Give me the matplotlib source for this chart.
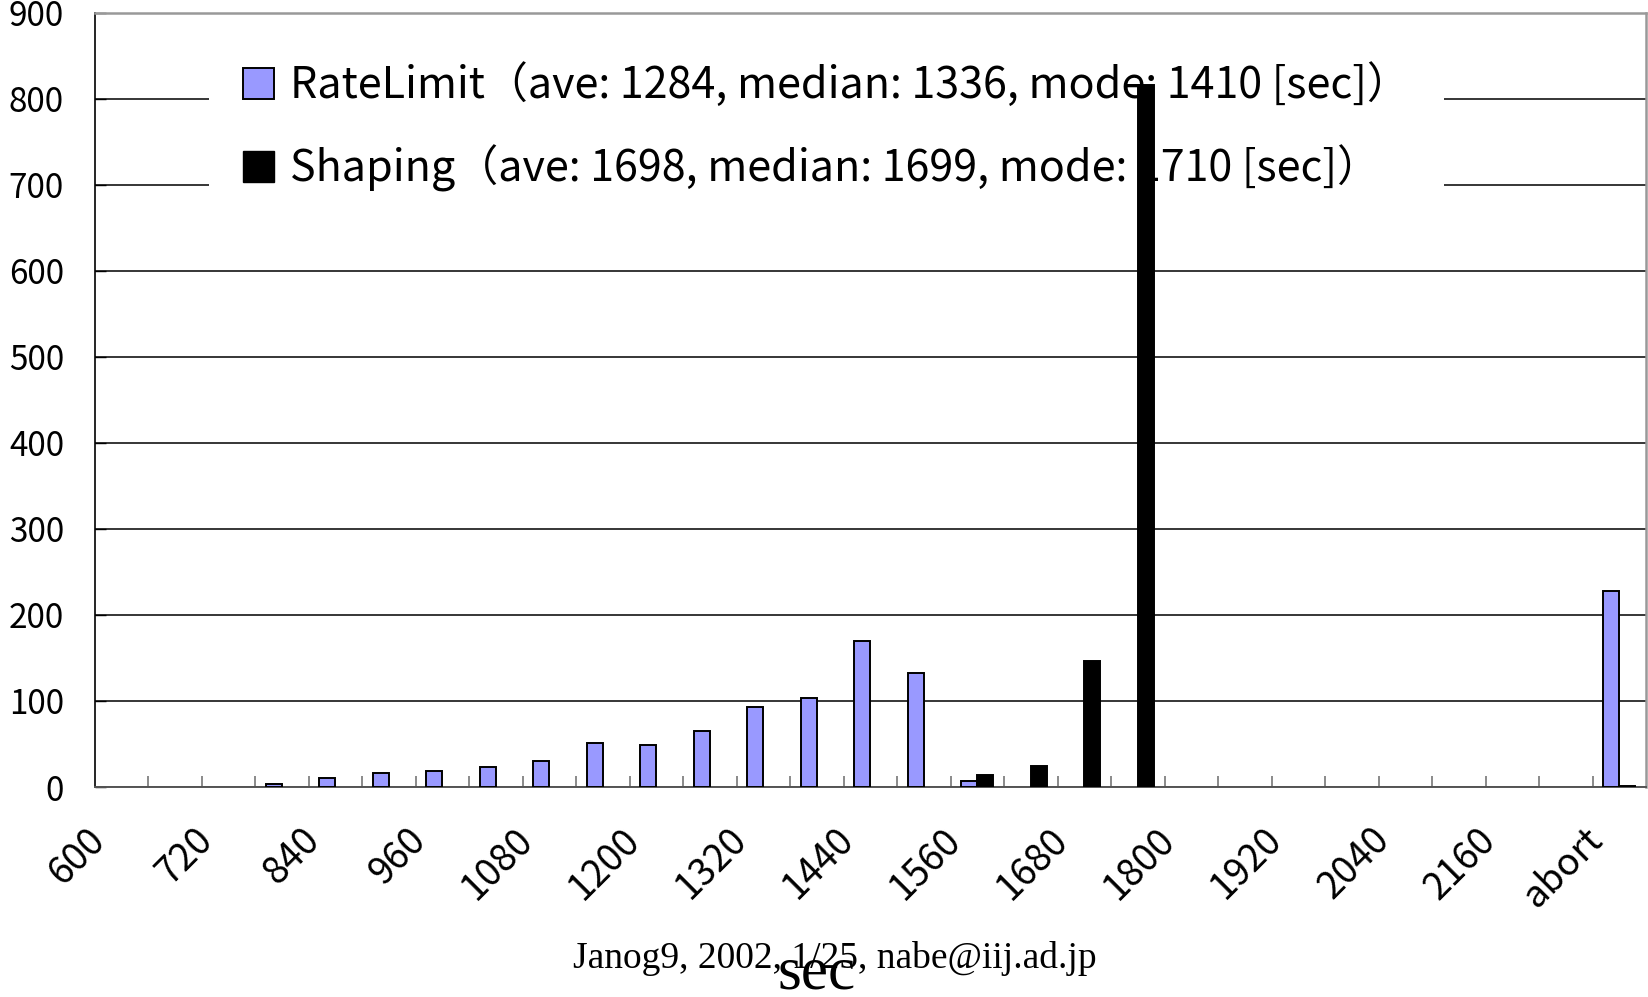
import matplotlib
matplotlib.use("Agg")
import matplotlib.pyplot as plt
from matplotlib.patches import Patch
from matplotlib.transforms import ScaledTranslation

# Histogram bins (labelled by upper edge, in seconds) plus aborted transfers
bins = ['600', '660', '720', '780', '840', '900', '960', '1020', '1080', '1140',
        '1200', '1260', '1320', '1380', '1440', '1500', '1560', '1620', '1680',
        '1740', '1800', '1860', '1920', '1980', '2040', '2100', '2160', '2220',
        'abort']

rate_limit = [0, 0, 0, 4, 11, 16, 19, 23, 30, 51, 49, 65, 93, 103, 170, 133, 7,
              0, 0, 0, 0, 0, 0, 0, 0, 0, 0, 0, 228]
shaping = [0, 0, 0, 0, 0, 0, 0, 0, 0, 0, 0, 0, 0, 0, 0, 0, 14, 24, 147, 816,
           0, 0, 0, 0, 0, 0, 0, 0, 1]

rate_label = 'RateLimit（ave: 1284, median: 1336, mode: 1410 [sec]）'
shaping_label = 'Shaping（ave: 1698, median: 1699, mode: 1710 [sec]）'

plt.rcParams['font.family'] = ['Noto Sans CJK JP', 'DejaVu Sans']

W, H = 1648, 997
fig = plt.figure(figsize=(W / 100, H / 100), dpi=100)
ax = fig.add_axes([94.6 / W, 1 - 787 / H, (1646 - 94.6) / W, (787 - 13) / H])

x = list(range(len(bins)))
w = 0.30
ax.bar([i - w / 2 for i in x], rate_limit, width=w, color='#9999ff',
       edgecolor='black', linewidth=[1.4 if v > 0 else 0 for v in rate_limit],
       zorder=3)
ax.bar([i + w / 2 for i in x], shaping, width=w, color='black',
       edgecolor='black', linewidth=[1.4 if v > 0 else 0 for v in shaping],
       zorder=3)

ax.set_xlim(-0.5, len(bins) - 0.5)
ax.set_ylim(0, 900)
ax.set_yticks(range(0, 901, 100))
ax.grid(axis='y', color='black', linewidth=1.1)
ax.set_axisbelow(True)

# category boundaries as inward ticks, labels on every other bin
ax.set_xticks([i + 0.5 for i in x[:-1]], minor=True)
ax.set_xticks(x[::2])
ax.set_xticklabels(bins[::2], rotation=45, ha='right', va='top')
ax.tick_params(axis='x', which='major', length=0, pad=24, labelsize=27)
ax.tick_params(axis='x', which='minor', direction='in', length=8,
               color='#777777', width=1.2)
ax.tick_params(axis='y', direction='in', length=8, width=1, labelsize=24, pad=22)
for lab in ax.get_xticklabels():
    lab.set_transform(lab.get_transform() + ScaledTranslation(-0.08, 0, fig.dpi_scale_trans))

for side in ['top', 'right']:
    ax.spines[side].set_color('#999999')
    ax.spines[side].set_linewidth(1.8)
ax.spines['left'].set_linewidth(1.2)
ax.spines['bottom'].set_color('#555555')
ax.spines['bottom'].set_linewidth(1.4)

handles = [Patch(facecolor='#9999ff', edgecolor='black', linewidth=1.4),
           Patch(facecolor='black', edgecolor='black')]
leg = ax.legend(handles, [rate_label, shaping_label], loc='upper left',
                bbox_to_anchor=(209 / W, 1 - 29 / H), bbox_transform=fig.transFigure,
                borderaxespad=0, fontsize=31, frameon=True, fancybox=False,
                framealpha=1, edgecolor='none', facecolor='white',
                handlelength=0.72, handleheight=0.72, handletextpad=0.36,
                labelspacing=0.85, borderpad=0.8)
leg.set_zorder(2.5)

fig.text(817 / W, 1 - 988 / H, 'sec', family='Liberation Serif', fontsize=44,
         ha='center', va='baseline')
fig.text(835 / W, 1 - 968 / H, 'Janog9, 2002, 1/25, nabe@iij.ad.jp',
         family='Liberation Serif', fontsize=27, ha='center', va='baseline')

fig.savefig('out.png', dpi=100)
